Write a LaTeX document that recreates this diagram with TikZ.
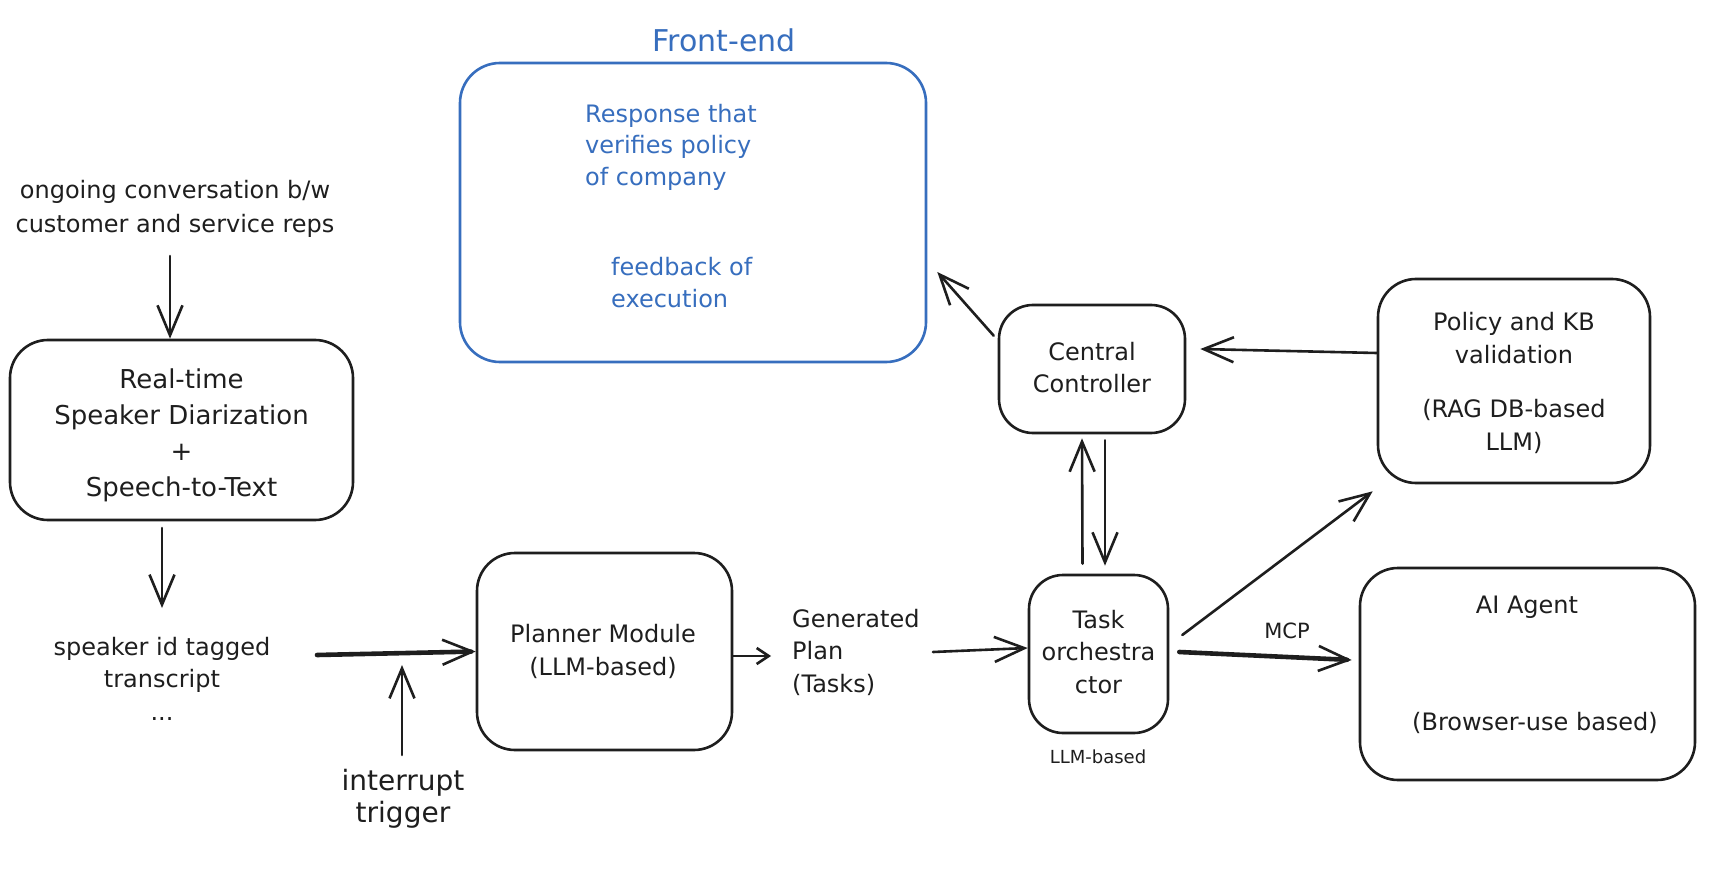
\documentclass[tikz,border=0pt]{standalone}
\usepackage{fontspec}
\setmainfont{DejaVu Sans}
\usetikzlibrary{arrows.meta,calc}
\definecolor{ink}{HTML}{1E1E1E}
\definecolor{feblue}{HTML}{376EBE}
\begin{document}
\begin{tikzpicture}[x=1pt,y=-1pt,
  box/.style={draw=ink, line width=2.6pt, rounded corners=38pt, inner sep=0pt},
  febox/.style={draw=feblue, line width=2.6pt, rounded corners=40pt, inner sep=0pt},
  arr/.style={draw=ink, line width=2.6pt, line cap=round, line join=round,
    -{Straight Barb[length=30pt,width=25pt,line width=2.6pt]}},
  smallhead/.style={-{Straight Barb[length=12pt,width=16pt,line width=2.6pt]}},
  heavy/.style={line width=4.6pt},
  txt/.style={text=ink, inner sep=0pt, align=center, font=\fontsize{24}{32}\selectfont},
  fetxt/.style={txt, text=feblue, align=left, anchor=north west}
]
\useasboundingbox[fill=white] (0,0) rectangle (1710,882);

% boxes
\node[box, minimum width=343pt, minimum height=180pt] (rt) at (181.5,430) {};
\node[box, minimum width=186pt, minimum height=128pt, rounded corners=34pt] (central) at (1092,369) {};
\node[box, minimum width=272pt, minimum height=204pt] (policy) at (1514,381) {};
\node[box, minimum width=139pt, minimum height=158pt, rounded corners=34pt] (task) at (1098.5,654) {};
\node[box, minimum width=255pt, minimum height=197pt] (planner) at (604.5,651.5) {};
\node[box, minimum width=335pt, minimum height=212pt] (agent) at (1527.5,674) {};
\node[febox, minimum width=466pt, minimum height=299pt] (front) at (693,212.5) {};

% texts
\node[txt, anchor=north, font=\fontsize{24}{34}\selectfont] (conv) at (175,174.2)
  {\strut ongoing conversation b/w\\\strut customer and service reps};
\node[txt, anchor=north, font=\fontsize{26}{36}\selectfont] (rtt) at (181.5,362.8)
  {\strut Real-time\\\strut Speaker Diarization\\\strut +\\\strut Speech-to-Text};
\node[txt, text=feblue, anchor=base, font=\fontsize{30}{36}\selectfont] (fetitle) at (724,52) {Front-end};
\node[fetxt, font=\fontsize{24}{31.5}\selectfont] (resp) at (585,100)
  {\strut Response that\\\strut verifies policy\\\strut of company};
\node[fetxt, font=\fontsize{24}{32}\selectfont] (feed) at (611,252.6)
  {\strut feedback of\\\strut execution};
\node[txt, anchor=north, font=\fontsize{24}{32}\selectfont] (centralt) at (1092,337.6)
  {\strut Central\\\strut Controller};
\node[txt, anchor=north, font=\fontsize{24}{32.5}\selectfont] (policyt) at (1514,307.75)
  {\strut Policy and KB\\\strut validation\\[22pt]\strut (RAG DB-based\\\strut LLM)};
\node[txt, anchor=north, font=\fontsize{24}{32.5}\selectfont] (taskt) at (1098.5,605.25)
  {\strut Task\\\strut orchestra\\\strut ctor};
\node[txt, anchor=base, font=\fontsize{18}{22}\selectfont] (llm) at (1098,763) {LLM-based};
\node[txt, anchor=north, font=\fontsize{24}{33}\selectfont] (plannert) at (603,618.9)
  {\strut Planner Module\\\strut (LLM-based)};
\node[txt, anchor=base] (agentt) at (1527,613) {AI Agent};
\node[txt, anchor=base] (agentb) at (1535,730) {(Browser-use based)};
\node[txt, anchor=north, font=\fontsize{24}{32.5}\selectfont] (tr) at (162,632.25)
  {\strut speaker id tagged\\\strut transcript\\\strut ...};
\node[txt, align=left, anchor=north west, font=\fontsize{24}{32.5}\selectfont] (gen) at (792,604.25)
  {\strut Generated\\\strut Plan\\\strut (Tasks)};
\node[txt, anchor=north, font=\fontsize{28}{32}\selectfont] (int) at (403,767.6)
  {\strut interrupt\\\strut trigger};
\node[txt, anchor=base, font=\fontsize{21}{24}\selectfont] (mcp) at (1287,638) {MCP};

% connectors
\coordinate (convtail) at (170,256);
\draw[arr] (convtail) -- (convtail |- rt.north);
\coordinate (rtout) at (162,528);
\coordinate (rtin) at (162,608);
\draw[arr] (rtout) -- (rtin);
\coordinate (trout) at (317,655);
\draw[arr, heavy] (trout) -- (planner.west);
\coordinate (inttail) at (402,755);
\coordinate (inthead) at (402,665);
\draw[arr] (inttail) -- (inthead);
\coordinate (genin) at (771,656);
\draw[arr, smallhead] (planner.east |- genin) -- (genin);
\coordinate (genout) at (933,652);
\draw[arr] (genout) -- ([yshift=6pt]task.west);
\draw[arr] ([xshift=-16pt,yshift=10pt]task.north) -- ([xshift=-10pt,yshift=-4pt]central.south);
\draw[arr] ([xshift=13pt,yshift=-6pt]central.south) -- ([xshift=6.5pt,yshift=8pt]task.north);
\draw[arr] ([xshift=-4pt,yshift=-32pt]central.north west) -- ([xshift=10pt,yshift=-59.5pt]front.east);
\draw[arr] ([yshift=28pt]policy.west) -- ([xshift=14pt,yshift=20pt]central.east);
\draw[arr] ([xshift=13pt,yshift=19pt]task.east) -- ([xshift=-4pt,yshift=-7pt]policy.south west);
\draw[arr, heavy] ([xshift=10pt,yshift=2pt]task.east) -- ([xshift=-7pt,yshift=14pt]agent.west);
\end{tikzpicture}
\end{document}
